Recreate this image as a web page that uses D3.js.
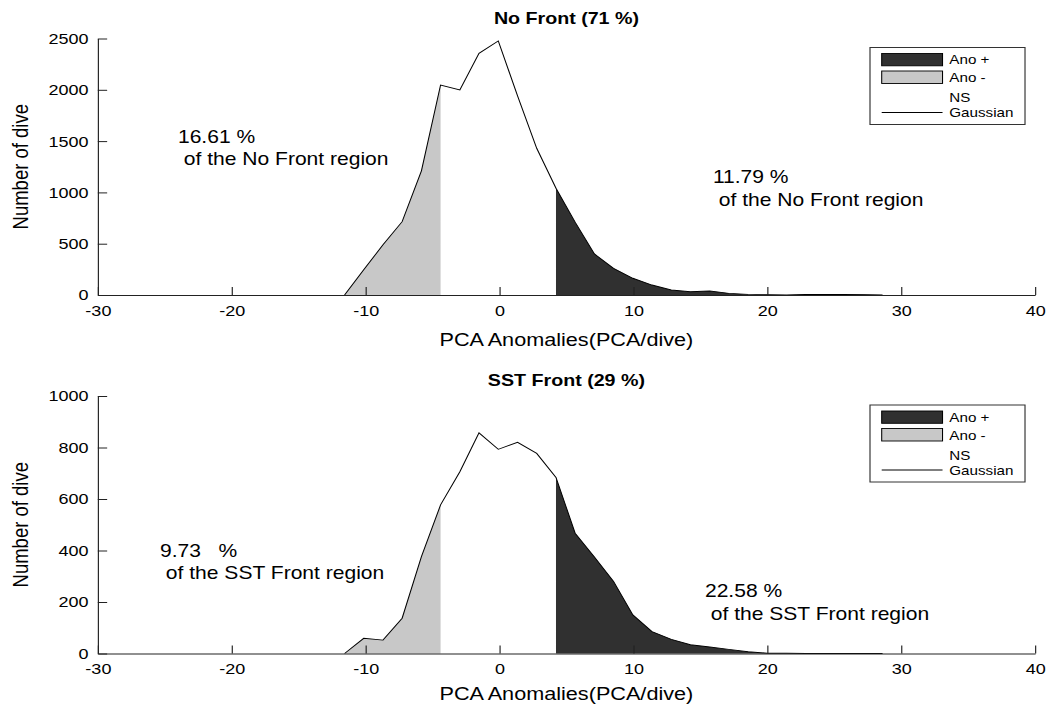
<!DOCTYPE html>
<html>
<head>
<meta charset="utf-8">
<script src="https://cdn.jsdelivr.net/npm/d3@7"></script>
<style>
  html, body { margin: 0; padding: 0; background: #fff; }
  svg { display: block; }
  text { font-family: "Liberation Sans", Arial, Helvetica, sans-serif; fill: #000; }
</style>
</head>
<body>
<svg id="chart"></svg>
<script>
// Histogram bin centres (PCA anomaly, PCA/dive)
const binCenters = [-11.57, -10.14, -8.70, -7.27, -5.83, -4.40, -2.96, -1.53, -0.09, 1.35,
                    2.78, 4.22, 5.65, 7.09, 8.52, 9.96, 11.39, 12.83, 14.26, 15.70,
                    17.13, 18.57, 20.00, 21.44, 22.87, 24.31, 25.74, 27.18, 28.61];
// Number of dives per bin, outside fronts
const noFrontCounts = [0, 245, 490, 715, 1210, 2047, 1998, 2356, 2476, 1940,
                       1430, 1040, 710, 400, 260, 163, 97, 49, 32, 39,
                       16, 6, 2, 0, 5, 5, 5, 4, 0];
// Number of dives per bin, on SST fronts
const sstFrontCounts = [0, 59, 52, 137, 376, 577, 706, 857, 793, 820,
                        777, 684, 467, 375, 280, 150, 85, 55, 34, 25,
                        16, 7, 1, 1, 0, 0, 0, 0, 0];
// Significance limits: below -> negative anomaly, above -> positive anomaly
const anoNegLimit = -4.40;
const anoPosLimit = 4.22;

const xTicks = [-30, -20, -10, 0, 10, 20, 30, 40];
const noFrontYTicks = [0, 500, 1000, 1500, 2000, 2500];
const sstFrontYTicks = [0, 200, 400, 600, 800, 1000];
const panelTitles = ["No Front (71 %)", "SST Front (29 %)"];
const legendLabels = ["Ano +", "Ano -", "NS", "Gaussian"];
const noFrontNotes = [["16.61 %", " of the No Front region"], ["11.79 %", " of the No Front region"]];
const sstFrontNotes = [["9.73   %", " of the SST Front region"], ["22.58 %", " of the SST Front region"]];

// Drawing is done in a narrower coordinate system that is stretched to the page width
const PAGE_W = 1047, PAGE_H = 709, VIEW_W = 895;
const DARK = "#303030", LIGHT = "#c8c8c8", AXIS = "#222";
const plain = d => String(d);   // hyphen-minus tick labels

const svg = d3.select("#chart")
  .attr("width", PAGE_W).attr("height", PAGE_H)
  .attr("viewBox", `0 0 ${VIEW_W} ${PAGE_H}`)
  .attr("preserveAspectRatio", "none");

const x = d3.scaleLinear().domain([-30, 40]).range([83.6, 884.8]);

const panels = [
  { title: panelTitles[0], counts: noFrontCounts, yTicks: noFrontYTicks, yMax: 2500,
    yRange: [295, 38.5], titleY: 24, tickLabelY: 316, xLabelY: 346.5,
    notes: noFrontNotes, notePos: [[152.1, 143], [609.4, 183.3]] },
  { title: panelTitles[1], counts: sstFrontCounts, yTicks: sstFrontYTicks, yMax: 1000,
    yRange: [653.5, 396], titleY: 386, tickLabelY: 674.5, xLabelY: 700,
    notes: sstFrontNotes, notePos: [[136.8, 557], [602.6, 597.3]] }
];

panels.forEach(p => {
  const y = d3.scaleLinear().domain([0, p.yMax]).range(p.yRange);
  const g = svg.append("g");
  const pts = binCenters.map((c, i) => ({ x: c, v: p.counts[i] }));

  const area = d3.area().x(d => x(d.x)).y0(y(0)).y1(d => y(d.v));
  const line = d3.line().x(d => x(d.x)).y(d => y(d.v));

  // shaded tails
  g.append("path").datum(pts.filter(d => d.x <= anoNegLimit + 1e-9))
    .attr("d", area).attr("fill", LIGHT);
  g.append("path").datum(pts.filter(d => d.x >= anoPosLimit - 1e-9))
    .attr("d", area).attr("fill", DARK);

  // histogram outline
  g.append("path").datum(pts).attr("d", line)
    .attr("fill", "none").attr("stroke", "#000").attr("stroke-width", 0.9);

  // axes (ticks pointing inward)
  const yAxis = d3.axisLeft(y).tickValues(p.yTicks).tickFormat(plain)
    .tickSize(-8).tickSizeOuter(0).tickPadding(8);
  const ya = g.append("g").attr("transform", `translate(${x(-30)},0)`).call(yAxis);
  const xAxis = d3.axisBottom(x).tickValues(xTicks).tickFormat(plain)
    .tickSize(-8).tickSizeOuter(0).tickPadding(10.5);
  const xa = g.append("g").attr("transform", `translate(0,${y(0)})`).call(xAxis);
  [ya, xa].forEach(a => {
    a.select(".domain").attr("stroke", AXIS);
    a.selectAll(".tick line").attr("stroke", AXIS);
    a.selectAll(".tick text").attr("fill", "#000")
      .style("font-size", "15.4px").style("font-family", '"Liberation Sans", Arial, sans-serif');
  });
  xa.selectAll(".tick text").attr("dy", null).attr("y", p.tickLabelY - y(0));

  // title and axis labels
  g.append("text").attr("x", (x(-30) + x(40)) / 2).attr("y", p.titleY)
    .attr("text-anchor", "middle").style("font-size", "16.8px").style("font-weight", "bold")
    .text(p.title);
  g.append("text").attr("x", (x(-30) + x(40)) / 2).attr("y", p.xLabelY)
    .attr("text-anchor", "middle").style("font-size", "18.5px")
    .text("PCA Anomalies(PCA/dive)");
  const yMid = (p.yRange[0] + p.yRange[1]) / 2;
  g.append("text").attr("transform", `translate(24,${yMid}) rotate(-90)`)
    .attr("text-anchor", "middle").style("font-size", "18.5px")
    .text("Number of dive");

  // percentage notes
  p.notes.forEach((lines, i) => {
    const t = g.append("text").attr("x", p.notePos[i][0]).attr("y", p.notePos[i][1])
      .style("font-size", "18px").attr("xml:space", "preserve").style("white-space", "pre");
    lines.forEach((s, j) => {
      t.append("tspan").attr("x", p.notePos[i][0]).attr("dy", j === 0 ? 0 : 22.5).text(s);
    });
  });

  // legend
  const top = p.yRange[1] + 9;
  const lg = g.append("g");
  lg.append("rect").attr("x", 743.7).attr("y", top).attr("width", 132.5).attr("height", 77)
    .attr("fill", "#fff").attr("stroke", "#333").attr("stroke-width", 1);
  lg.append("rect").attr("x", 753.7).attr("y", top + 6).attr("width", 52).attr("height", 12.3)
    .attr("fill", DARK).attr("stroke", "#000").attr("stroke-width", 0.9);
  lg.append("rect").attr("x", 753.7).attr("y", top + 23.5).attr("width", 52).attr("height", 12.5)
    .attr("fill", LIGHT).attr("stroke", "#000").attr("stroke-width", 0.9);
  lg.append("line").attr("x1", 753.7).attr("x2", 805.7).attr("y1", top + 65).attr("y2", top + 65)
    .attr("stroke", "#000").attr("stroke-width", 0.9);
  const rowsY = [12.3, 30, 50, 65];
  legendLabels.forEach((lab, i) => {
    lg.append("text").attr("x", 811.5).attr("y", top + rowsY[i]).attr("dy", "0.35em")
      .style("font-size", "13px").text(lab);
  });
});
</script>
</body>
</html>
